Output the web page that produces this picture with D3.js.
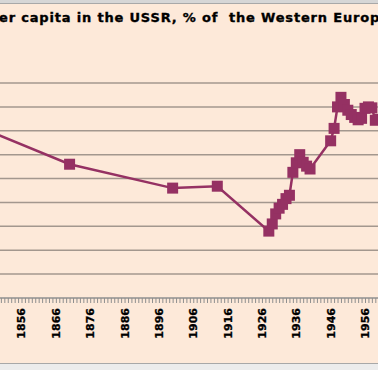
<!DOCTYPE html>
<html>
<head>
<meta charset="utf-8">
<script src="https://cdn.jsdelivr.net/npm/d3@7/dist/d3.min.js"></script>
<style>
  body { margin: 0; background: #fde9d9; }
  svg { display: block; }
</style>
</head>
<body>
<svg id="chart" width="378" height="370"></svg>
<script>
// GDP per capita in the USSR, % of the Western Europe level
var years = [1820, 1870, 1900, 1913,
  1928, 1929, 1930, 1931, 1932, 1933, 1934, 1935, 1936, 1937, 1938, 1939, 1940,
  1946, 1947, 1948, 1949, 1950, 1951, 1952, 1953, 1954, 1955, 1956, 1957, 1958, 1959, 1960];
var shares = [62.8, 48.0, 43.0, 43.4,
  34.0, 35.5, 37.6, 38.8, 39.6, 40.8, 41.5, 46.3, 48.3, 50.0, 48.4, 47.6, 47.0,
  52.9, 55.5, 60.0, 62.0, 60.5, 59.3, 58.4, 57.8, 57.3, 57.6, 59.7, 60.0, 59.8, 57.2, 57.4];
var tickLabels = [1856, 1866, 1876, 1886, 1896, 1906, 1916, 1926, 1936, 1946, 1956];
var gridValues = [25, 30, 35, 40, 45, 50, 55, 60, 65];

var width = 378, height = 370;
var lineColor = "#953163";

var svg = d3.select("#chart");

var x = d3.scaleLinear().domain([1856, 1956]).range([21.5, 365]);
var y = d3.scaleLinear().domain([20, 65]).range([298, 83]);

svg.append("rect")
  .attr("width", width).attr("height", height)
  .attr("fill", "#fde9d9");

// frame bits of the cropped chart
svg.append("rect").attr("x", 0).attr("y", 0).attr("width", width).attr("height", 3)
  .attr("fill", "#d6d6d6");
svg.append("line").attr("x1", 0).attr("x2", width).attr("y1", 3.5).attr("y2", 3.5)
  .attr("stroke", "#a8a8a8").attr("stroke-width", 1);
svg.append("rect").attr("x", 0).attr("y", 364).attr("width", width).attr("height", 6)
  .attr("fill", "#ececec");
svg.append("line").attr("x1", 0).attr("x2", width).attr("y1", 363.5).attr("y2", 363.5)
  .attr("stroke", "#a8a8a8").attr("stroke-width", 1);

// title, cut at both sides like the source
var titleText = "er capita in the USSR, % of  the Western Europe";
var visiblePart = "er capita in the USSR, % of  the Western Europ";
var title = svg.append("text")
  .attr("x", -1)
  .attr("y", 22)
  .style("white-space", "pre")
  .attr("font-family", "DejaVu Sans")
  .attr("font-weight", "bold")
  .attr("font-size", 13)
  .attr("fill", "#000")
  .attr("stroke", "#000")
  .attr("stroke-width", 0.35)
  .text(titleText);
var probe = svg.append("text")
  .style("white-space", "pre")
  .attr("font-family", "DejaVu Sans").attr("font-weight", "bold").attr("font-size", 13)
  .text(visiblePart);
var w = probe.node().getComputedTextLength();
probe.remove();
title.attr("letter-spacing", ((381 - w) / visiblePart.length).toFixed(2));

// gridlines
svg.append("g")
  .selectAll("line")
  .data(gridValues)
  .join("line")
  .attr("x1", 0).attr("x2", width)
  .attr("y1", function (d) { return y(d); })
  .attr("y2", function (d) { return y(d); })
  .attr("stroke", "#a3978e")
  .attr("stroke-width", 1.5);

// x axis: a tick for every year, labels every ten years
var allYears = d3.range(Math.ceil(x.invert(0)), Math.floor(x.invert(width)) + 1);
var xAxisG = svg.append("g")
  .attr("transform", "translate(0," + y(20) + ")")
  .call(d3.axisBottom(x).tickValues(allYears).tickSize(5).tickFormat(""));
xAxisG.select(".domain").remove();
xAxisG.selectAll(".tick line").attr("stroke", "#8f8f8f");
xAxisG.append("line")
  .attr("x1", 0).attr("x2", width)
  .attr("stroke", "#8f8f8f").attr("stroke-width", 1.5);

xAxisG.selectAll("text.label")
  .data(tickLabels)
  .join("text")
  .attr("class", "label")
  .attr("transform", function (d) { return "translate(" + x(d) + ",10) rotate(-90)"; })
  .attr("text-anchor", "end")
  .attr("dy", "0.36em")
  .attr("font-family", "DejaVu Sans")
  .attr("font-weight", "bold")
  .attr("font-size", 11)
  .attr("fill", "#000")
  .attr("stroke", "#000")
  .attr("stroke-width", 0.3)
  .text(function (d) { return d; });

// series
var points = years.map(function (yr, i) { return [yr, shares[i]]; });

svg.append("path")
  .datum(points)
  .attr("fill", "none")
  .attr("stroke", lineColor)
  .attr("stroke-width", 2.5)
  .attr("d", d3.line()
    .x(function (d) { return x(d[0]); })
    .y(function (d) { return y(d[1]); }));

var size = 11;
svg.append("g")
  .selectAll("rect")
  .data(points)
  .join("rect")
  .attr("x", function (d) { return x(d[0]) - size / 2; })
  .attr("y", function (d) { return y(d[1]) - size / 2; })
  .attr("width", size)
  .attr("height", size)
  .attr("fill", lineColor);
</script>
</body>
</html>
